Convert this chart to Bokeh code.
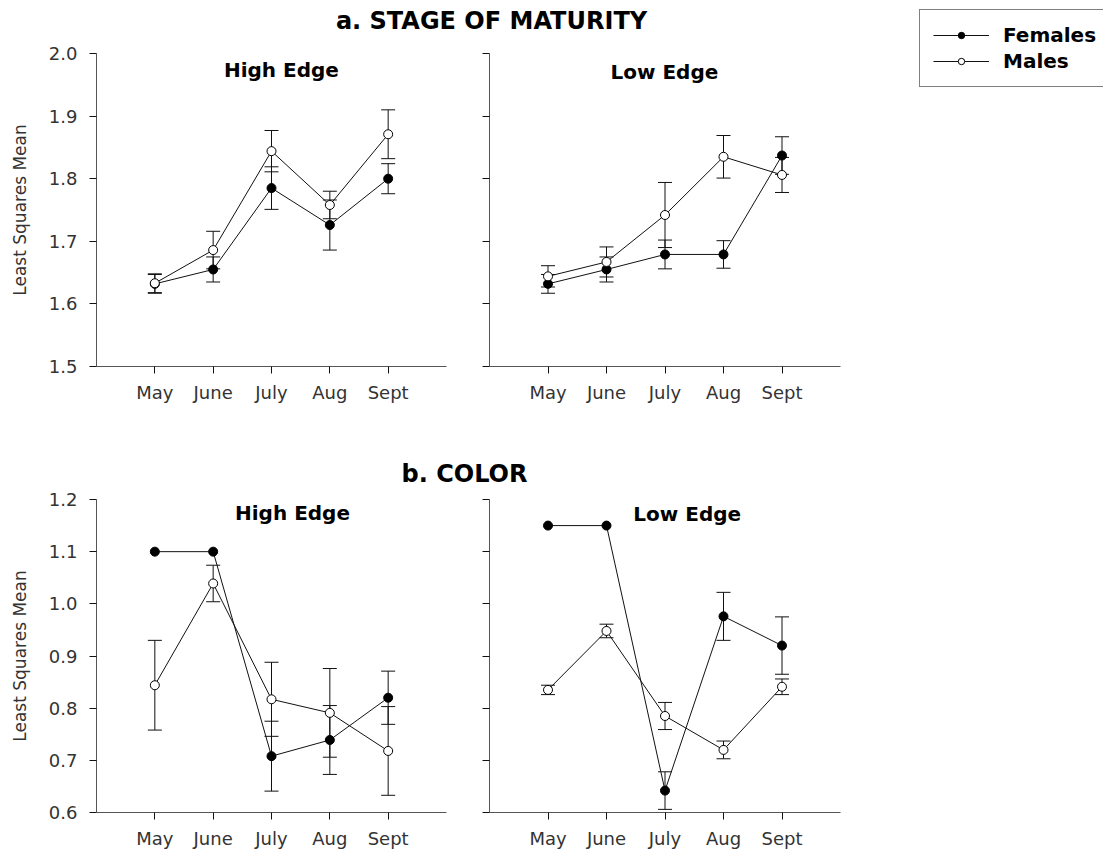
from bokeh.plotting import figure
from bokeh.layouts import row, column
from bokeh.models import (Range1d, FixedTicker, PrintfTickFormatter, CustomJSTickFormatter,
                          Whisker, TeeHead, ColumnDataSource, Label, Legend, LegendItem)
from bokeh.embed import file_html
from bokeh.resources import INLINE

# ---- data -------------------------------------------------------------
months = ["May", "June", "July", "Aug", "Sept"]

maturity_ticks = [1.5, 1.6, 1.7, 1.8, 1.9, 2.0]
color_ticks = [0.6, 0.7, 0.8, 0.9, 1.0, 1.1, 1.2]

# a. stage of maturity, least squares means and standard errors
mat_high_fem = [1.632, 1.655, 1.785, 1.726, 1.800]
mat_high_fem_se = [0.015, 0.020, 0.034, 0.040, 0.024]
mat_high_male = [1.633, 1.686, 1.844, 1.758, 1.871]
mat_high_male_se = [0.015, 0.030, 0.033, 0.022, 0.039]

mat_low_fem = [1.632, 1.655, 1.679, 1.679, 1.837]
mat_low_fem_se = [0.015, 0.020, 0.023, 0.022, 0.030]
mat_low_male = [1.644, 1.667, 1.742, 1.835, 1.806]
mat_low_male_se = [0.017, 0.024, 0.052, 0.034, 0.028]

# b. color
col_high_fem = [1.100, 1.100, 0.708, 0.739, 0.820]
col_high_fem_se = [0.0, 0.0, 0.067, 0.066, 0.051]
col_high_male = [0.844, 1.039, 0.817, 0.791, 0.718]
col_high_male_se = [0.086, 0.035, 0.071, 0.085, 0.085]

col_low_fem = [1.150, 1.150, 0.642, 0.976, 0.920]
col_low_fem_se = [0.0, 0.0, 0.036, 0.046, 0.055]
col_low_male = [0.835, 0.948, 0.785, 0.720, 0.841]
col_low_male_se = [0.009, 0.013, 0.026, 0.017, 0.015]

FONT = "DejaVu Sans"
INK = "#111111"
AXIS_GREY = "#555555"
TEXT_GREY = "#333333"


def whisker_source(means, ses):
    xs, lo, hi = [], [], []
    for i, (m, s) in enumerate(zip(means, ses)):
        if s > 0:
            xs.append(i)
            lo.append(m - s)
            hi.append(m + s)
    return ColumnDataSource(dict(x=xs, lower=lo, upper=hi))


def panel(fem, fem_se, male, male_se, ticks, heading, head_xy,
          width, height, left, right, top, bottom, labelled):
    p = figure(width=width, height=height, toolbar_location=None, output_backend="svg",
               x_range=Range1d(-1, len(months)), y_range=Range1d(ticks[0], ticks[-1]),
               min_border_left=left, min_border_right=right,
               min_border_top=top, min_border_bottom=bottom)
    p.outline_line_color = None
    p.grid.visible = False
    p.background_fill_color = "white"

    xs = list(range(len(months)))

    for means, ses in ((fem, fem_se), (male, male_se)):
        w = Whisker(source=whisker_source(means, ses), base="x", lower="lower", upper="upper",
                    line_color=INK, line_width=1,
                    upper_head=TeeHead(size=14, line_color=INK, line_width=1),
                    lower_head=TeeHead(size=14, line_color=INK, line_width=1))
        p.add_layout(w)

    p.line(xs, fem, line_color=INK, line_width=1)
    p.line(xs, male, line_color=INK, line_width=1)
    p.scatter(xs, fem, marker="circle", size=9, fill_color="black", line_color="black")
    p.scatter(xs, male, marker="circle", size=9, fill_color="white", line_color="black")

    xa = p.xaxis[0]
    xa.ticker = FixedTicker(ticks=xs)
    xa.major_label_overrides = {i: m for i, m in enumerate(months)}
    ya = p.yaxis[0]
    ya.ticker = FixedTicker(ticks=ticks)
    if labelled:
        ya.formatter = PrintfTickFormatter(format="%.1f")
        ya.axis_label = "Least Squares Mean"
    else:
        ya.formatter = CustomJSTickFormatter(code="return ''")

    for ax in (xa, ya):
        ax.axis_line_color = AXIS_GREY
        ax.axis_line_width = 1
        ax.major_tick_line_color = INK
        ax.major_tick_in = 0
        ax.major_tick_out = 7
        ax.minor_tick_line_color = None
        ax.major_label_text_font = FONT
        ax.major_label_text_font_size = "18px"
        ax.major_label_text_color = TEXT_GREY
    xa.major_label_standoff = 8
    ya.major_label_standoff = 12
    ya.axis_label_text_font = FONT
    ya.axis_label_text_font_size = "17px"
    ya.axis_label_text_font_style = "normal"
    ya.axis_label_text_color = TEXT_GREY
    ya.axis_label_standoff = 16

    p.add_layout(Label(x=head_xy[0], y=head_xy[1], text=heading, text_align="center",
                       text_baseline="middle", text_font=FONT, text_font_style="bold",
                       text_font_size="20px", text_color="black"))
    return p


def banner(text, width, height, cx, cy):
    b = figure(width=width, height=height, toolbar_location=None, output_backend="svg",
               x_range=Range1d(0, width), y_range=Range1d(height, 0),
               x_axis_location=None, y_axis_location=None, min_border=0)
    b.outline_line_color = None
    b.grid.visible = False
    b.add_layout(Label(x=cx, y=cy, text=text, text_align="center", text_baseline="middle",
                       text_font=FONT, text_font_style="bold", text_font_size="24px",
                       text_color="black"))
    return b


head_a = banner("a. STAGE OF MATURITY", 860, 40, 491, 20)
tl = panel(mat_high_fem, mat_high_fem_se, mat_high_male, mat_high_male_se, maturity_ticks,
           "High Edge", (2.17, 1.973), 460, 420, 96, 14, 13, 94, True)
tr = panel(mat_low_fem, mat_low_fem_se, mat_low_male, mat_low_male_se, maturity_ticks,
           "Low Edge", (1.99, 1.970), 400, 420, 29, 20, 13, 94, False)

head_b = banner("b. COLOR", 860, 30, 464, 13)
bl = panel(col_high_fem, col_high_fem_se, col_high_male, col_high_male_se, color_ticks,
           "High Edge", (2.36, 1.175), 460, 361, 96, 14, 9, 39, True)
br = panel(col_low_fem, col_low_fem_se, col_low_male, col_low_male_se, color_ticks,
           "Low Edge", (2.38, 1.173), 400, 361, 29, 20, 9, 39, False)

# key figure to the right of the panels; its renderers hold no drawable points,
# they only supply the line/marker styles for the legend entries
nan = float("nan")
key = figure(width=243, height=100, toolbar_location=None, output_backend="svg",
             x_range=Range1d(0, 1), y_range=Range1d(0, 1),
             x_axis_location=None, y_axis_location=None, min_border=0)
key.outline_line_color = None
key.grid.visible = False
kf_line = key.line(x=[nan], y=[nan], line_color=INK, line_width=1)
kf_dot = key.scatter(x=[nan], y=[nan], marker="circle", size=7, fill_color="black", line_color="black")
km_line = key.line(x=[nan], y=[nan], line_color=INK, line_width=1)
km_dot = key.scatter(x=[nan], y=[nan], marker="circle", size=7, fill_color="white", line_color="black")
legend = Legend(items=[LegendItem(label="Females", renderers=[kf_line, kf_dot]),
                       LegendItem(label="Males", renderers=[km_line, km_dot])],
                location=(59, 13), orientation="vertical",
                label_text_font=FONT, label_text_font_style="bold", label_text_font_size="20px",
                label_text_color="black", glyph_width=56, glyph_height=16, label_height=24,
                label_standoff=14, padding=13, spacing=2, margin=0,
                border_line_color="black", border_line_width=1,
                background_fill_color="white", background_fill_alpha=1.0)
key.add_layout(legend)

layout = row(column(head_a, row(tl, tr), head_b, row(bl, br)), key)

with open("out.html", "w") as f:
    f.write(file_html(layout, INLINE))
